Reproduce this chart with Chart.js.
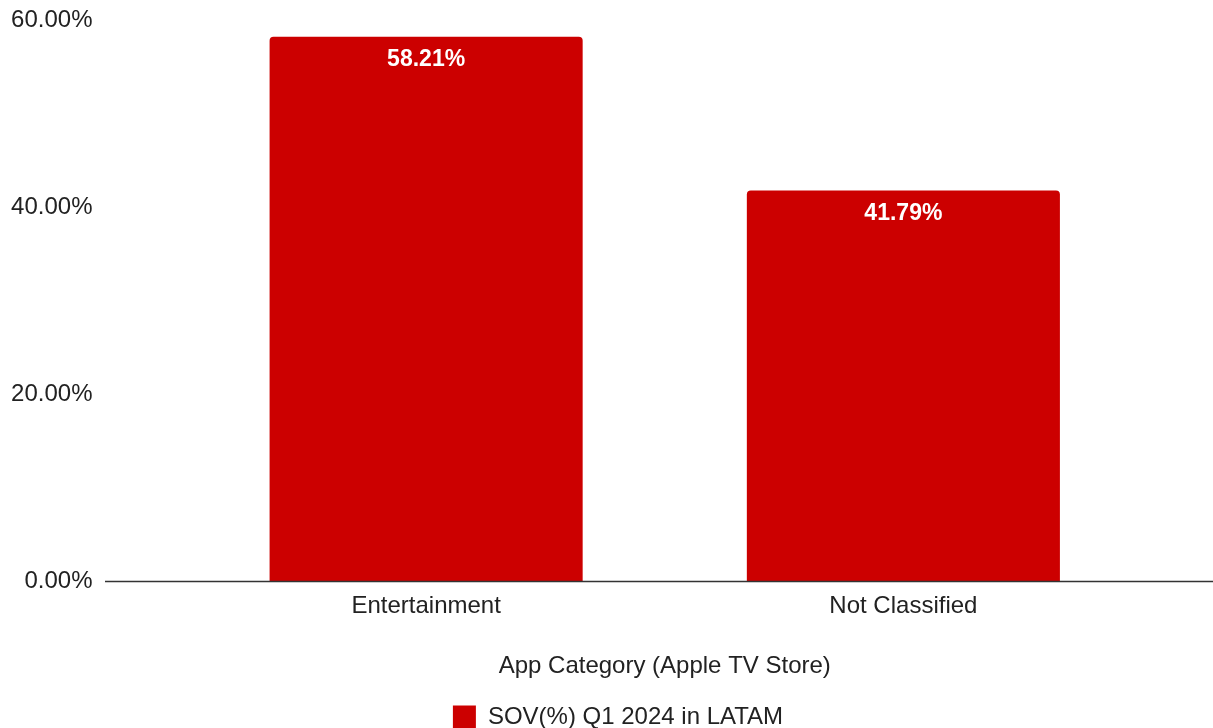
<!DOCTYPE html>
<html>
<head>
<meta charset="utf-8">
<script src="https://cdn.jsdelivr.net/npm/chart.js@4.4.1/dist/chart.umd.min.js"></script>
<style>
  html, body { margin: 0; padding: 0; background: #fff; }
  #wrap { width: 1213px; height: 728px; }
</style>
</head>
<body>
<div id="wrap"><canvas id="chartCanvas"></canvas></div>
<script>
const categories = ['Entertainment', 'Not Classified'];
const sovValues = [58.21, 41.79];
const seriesName = 'SOV(%) Q1 2024 in LATAM';
const axisTitle = 'App Category (Apple TV Store)';
const yTicks = [0, 20, 40, 60];

const FONT = "'Liberation Sans', Arial, Helvetica, sans-serif";

// white value labels inside the top of each bar
const valueLabels = {
  id: 'valueLabels',
  afterDatasetsDraw(chart) {
    const ctx = chart.ctx;
    const meta = chart.getDatasetMeta(0);
    ctx.save();
    ctx.fillStyle = '#ffffff';
    ctx.font = 'bold 23px ' + FONT;
    ctx.textAlign = 'center';
    ctx.textBaseline = 'middle';
    meta.data.forEach((bar, i) => {
      ctx.fillText(sovValues[i].toFixed(2) + '%', bar.x, bar.y + 23);
    });
    ctx.restore();
  }
};

// baseline at zero, running from the y labels to the right edge
const baseline = {
  id: 'baseline',
  afterDatasetsDraw(chart) {
    const ctx = chart.ctx;
    const y = Math.round(chart.scales.y.getPixelForValue(0)) + 0.5;
    ctx.save();
    ctx.strokeStyle = '#333333';
    ctx.lineWidth = 1.5;
    ctx.beginPath();
    ctx.moveTo(105, y);
    ctx.lineTo(chart.width, y);
    ctx.stroke();
    ctx.restore();
  }
};

// legend sits a bit right of the canvas centre
const legendShift = {
  id: 'legendShift',
  beforeDraw(chart) {
    if (chart.legend) chart.legend.left = 94;
  }
};

const ctx = document.getElementById('chartCanvas').getContext('2d');
window.myChart = new Chart(ctx, {
  type: 'bar',
  data: {
    labels: categories,
    datasets: [{
      label: seriesName,
      data: sovValues,
      backgroundColor: '#cc0000',
      borderRadius: { topLeft: 4, topRight: 4 },
      borderSkipped: 'start',
      barPercentage: 0.656,
      categoryPercentage: 1
    }]
  },
  options: {
    responsive: true,
    maintainAspectRatio: false,
    animation: false,
    layout: { padding: { left: 11, right: 71, top: 0, bottom: -11 } },
    plugins: {
      tooltip: { enabled: false },
      legend: {
        position: 'bottom',
        labels: {
          color: '#222',
          font: { family: FONT, size: 24 },
          boxWidth: 23,
          boxHeight: 23,
          padding: 2
        }
      }
    },
    scales: {
      x: {
        grid: { display: false, drawTicks: false },
        border: { display: false },
        ticks: { color: '#222', font: { family: FONT, size: 24 }, padding: 11 },
        title: {
          display: true,
          text: axisTitle,
          color: '#222',
          font: { family: FONT, size: 24 },
          padding: { top: 20, bottom: 22 }
        }
      },
      y: {
        min: yTicks[0],
        max: yTicks[yTicks.length - 1],
        afterBuildTicks(scale) {
          scale.ticks = yTicks.map(v => ({ value: v }));
        },
        afterFit(scale) {
          // fixed axis width, wide gap between labels and bars
          scale.width = 176.5;
          scale.paddingTop = 20;
          scale.paddingBottom = 14;
        },
        grid: { display: false, drawTicks: false },
        border: { display: false },
        ticks: {
          color: '#222',
          font: { family: FONT, size: 24 },
          padding: 95,
          callback: v => v.toFixed(2) + '%'
        }
      }
    }
  },
  plugins: [valueLabels, baseline, legendShift]
});
</script>
</body>
</html>
